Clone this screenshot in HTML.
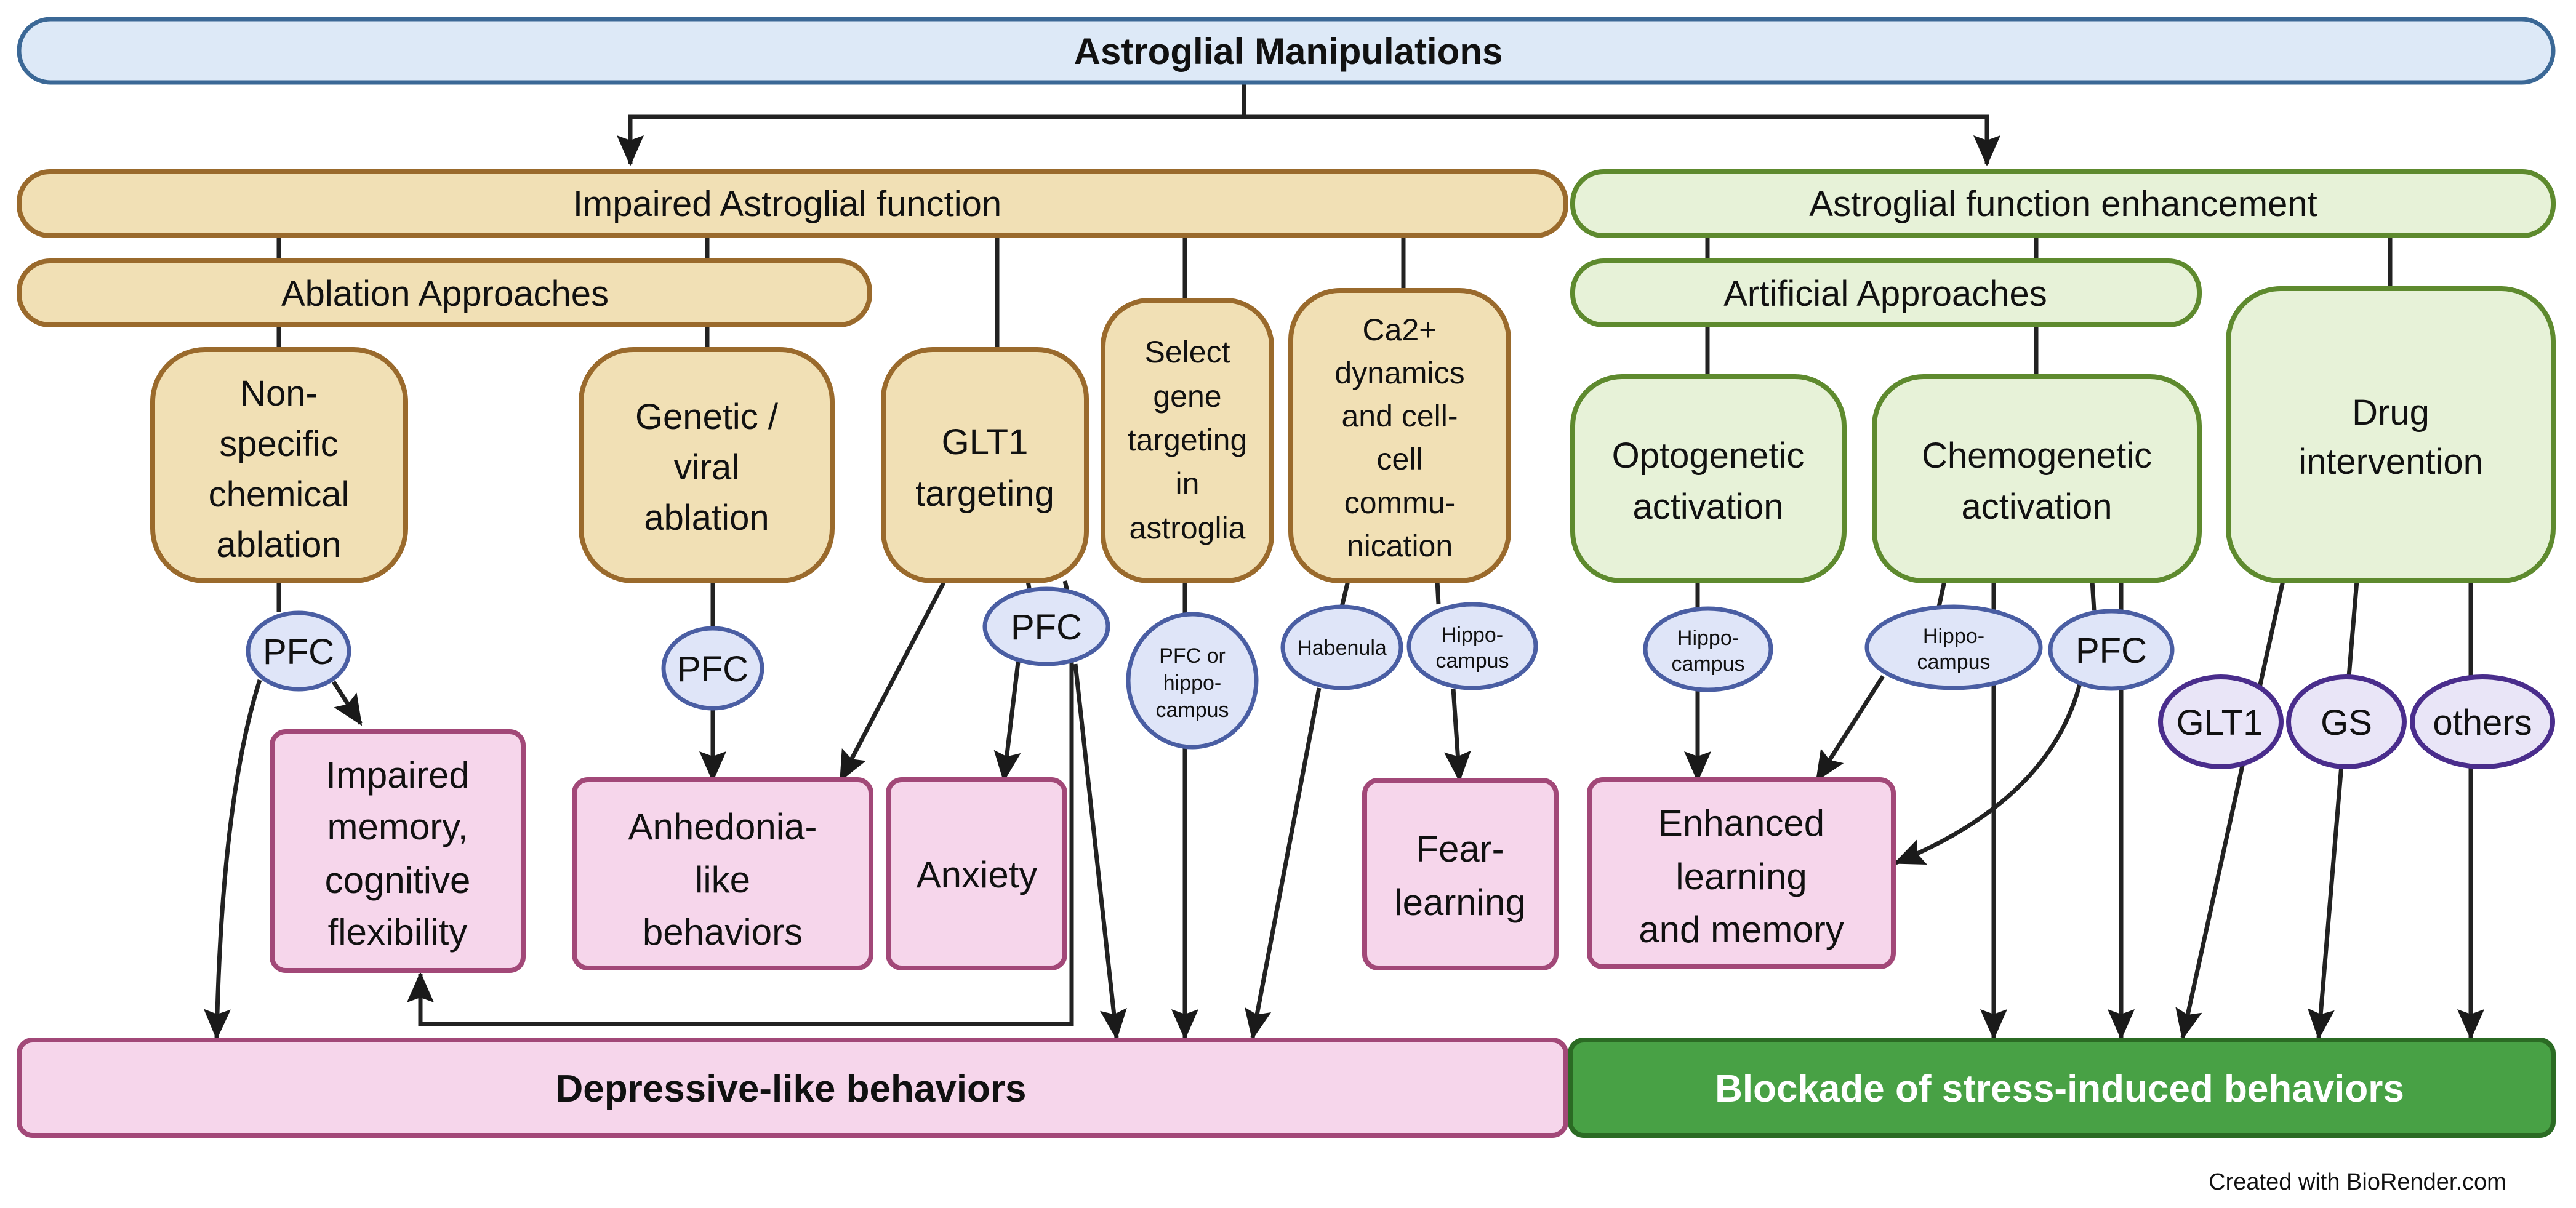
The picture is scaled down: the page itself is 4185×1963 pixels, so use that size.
<!DOCTYPE html>
<html><head><meta charset="utf-8"><style>
html,body{margin:0;padding:0;background:#fff}
svg{display:block}
text{font-family:"Liberation Sans",Arial,sans-serif;fill:#111;text-anchor:middle}
</style></head><body>
<svg width="4185" height="1963" viewBox="0 0 4185 1963" xmlns="http://www.w3.org/2000/svg">
<defs>
<marker id="a" markerUnits="userSpaceOnUse" markerWidth="50" markerHeight="44" refX="46" refY="22" orient="auto" viewBox="0 0 50 44">
<path d="M0,0 L50,22 L0,44 L8,22 Z" fill="#1a1a1a"/>
</marker>
</defs>
<g stroke="#222" stroke-width="7" fill="none">
<polyline points="2021,134 2021,190 1024,190 1024,266" marker-end="url(#a)"/>
<polyline points="2021,190 3228,190 3228,266" marker-end="url(#a)"/>
<line x1="453" y1="383" x2="453" y2="423"/><line x1="1149" y1="383" x2="1149" y2="423"/>
<line x1="453" y1="528" x2="453" y2="568"/><line x1="1149" y1="528" x2="1149" y2="568"/>
<line x1="1620" y1="383" x2="1620" y2="568"/>
<line x1="1925" y1="383" x2="1925" y2="488"/>
<line x1="2280" y1="383" x2="2280" y2="472"/>
<line x1="2774" y1="383" x2="2774" y2="423"/><line x1="3308" y1="383" x2="3308" y2="423"/>
<line x1="2774" y1="528" x2="2774" y2="612"/><line x1="3308" y1="528" x2="3308" y2="612"/>
<line x1="3883" y1="383" x2="3883" y2="469"/>
<line x1="453" y1="944" x2="453" y2="995"/>
<path d="M422,1105 Q360,1300 352,1686" marker-end="url(#a)"/>
<line x1="542" y1="1108" x2="586" y2="1176" marker-end="url(#a)"/>
<line x1="1158" y1="944" x2="1158" y2="1021"/>
<line x1="1158" y1="1152" x2="1158" y2="1267" marker-end="url(#a)"/>
<line x1="1533" y1="947" x2="1366" y2="1267" marker-end="url(#a)"/>
<line x1="1670" y1="944" x2="1672" y2="956"/>
<line x1="1654" y1="1076" x2="1631" y2="1267" marker-end="url(#a)"/>
<polyline points="1730,944 1741,990 1741,1664 683,1664 683,1583" marker-end="url(#a)"/>
<line x1="1747" y1="1079" x2="1814" y2="1686" marker-end="url(#a)"/>
<line x1="1925" y1="944" x2="1925" y2="998"/>
<line x1="1925" y1="1215" x2="1925" y2="1686" marker-end="url(#a)"/>
<line x1="2190" y1="944" x2="2180" y2="986"/>
<line x1="2143" y1="1118" x2="2035" y2="1686" marker-end="url(#a)"/>
<line x1="2335" y1="944" x2="2337" y2="982"/>
<line x1="2361" y1="1119" x2="2371" y2="1267" marker-end="url(#a)"/>
<line x1="2758" y1="944" x2="2758" y2="989"/>
<line x1="2758" y1="1121" x2="2758" y2="1267" marker-end="url(#a)"/>
<line x1="3159" y1="944" x2="3150" y2="986"/>
<line x1="3059" y1="1099" x2="2952" y2="1267" marker-end="url(#a)"/>
<line x1="3399" y1="944" x2="3402" y2="992"/>
<path d="M3379,1111 Q3330,1300 3080,1402" marker-end="url(#a)"/>
<line x1="3239" y1="944" x2="3239" y2="1686" marker-end="url(#a)"/>
<line x1="3446" y1="944" x2="3446" y2="1686" marker-end="url(#a)"/>
<line x1="3709" y1="944" x2="3546" y2="1686" marker-end="url(#a)"/>
<line x1="3829" y1="944" x2="3767" y2="1686" marker-end="url(#a)"/>
<line x1="4014" y1="944" x2="4014" y2="1686" marker-end="url(#a)"/>
</g>

<rect x="31" y="31" width="4117" height="103" rx="51" fill="#dde9f7" stroke="#3b6896" stroke-width="7"/>
<text x="2093" y="104" font-size="60" font-weight="bold">Astroglial Manipulations</text>

<g stroke="#9a6a2c" stroke-width="8" fill="#f1e0b5">
<rect x="31" y="279" width="2513" height="104" rx="50"/>
<rect x="31" y="424" width="1382" height="104" rx="50"/>
<rect x="248" y="568" width="411" height="376" rx="85"/>
<rect x="944" y="568" width="408" height="376" rx="85"/>
<rect x="1435" y="568" width="330" height="376" rx="80"/>
<rect x="1792" y="488" width="274" height="456" rx="75"/>
<rect x="2097" y="472" width="354" height="472" rx="80"/>
</g>
<g stroke="#5e8a2e" stroke-width="8" fill="#e7f2d8">
<rect x="2555" y="279" width="1593" height="104" rx="50"/>
<rect x="2555" y="424" width="1018" height="104" rx="50"/>
<rect x="2555" y="612" width="441" height="332" rx="80"/>
<rect x="3045" y="612" width="528" height="332" rx="80"/>
<rect x="3620" y="469" width="528" height="475" rx="85"/>
</g>
<g font-size="58">
<text x="1279" y="351">Impaired Astroglial function</text>
<text x="723" y="497">Ablation Approaches</text>
<text x="3352" y="351">Astroglial function enhancement</text>
<text x="3063" y="497">Artificial Approaches</text>
<text x="453" y="659">Non-</text><text x="453" y="741">specific</text><text x="453" y="823">chemical</text><text x="453" y="905">ablation</text>
<text x="1148" y="697">Genetic /</text><text x="1148" y="779">viral</text><text x="1148" y="861">ablation</text>
<text x="1600" y="738">GLT1</text><text x="1600" y="822">targeting</text>
<text x="2775" y="760">Optogenetic</text><text x="2775" y="843">activation</text>
<text x="3309" y="760">Chemogenetic</text><text x="3309" y="843">activation</text>
<text x="3884" y="690">Drug</text><text x="3884" y="770">intervention</text>
</g>
<g font-size="50">
<text x="1929" y="589">Select</text><text x="1929" y="661">gene</text><text x="1929" y="732">targeting</text><text x="1929" y="803">in</text><text x="1929" y="875">astroglia</text>
<text x="2274" y="553">Ca2+</text><text x="2274" y="623">dynamics</text><text x="2274" y="693">and cell-</text><text x="2274" y="763">cell</text><text x="2274" y="834">commu-</text><text x="2274" y="904">nication</text>
</g>

<g stroke="#a24878" stroke-width="8" fill="#f6d6eb">
<rect x="442" y="1189" width="408" height="388" rx="22"/>
<rect x="933" y="1267" width="482" height="306" rx="22"/>
<rect x="1443" y="1267" width="287" height="306" rx="22"/>
<rect x="2217" y="1268" width="311" height="305" rx="22"/>
<rect x="2582" y="1267" width="494" height="304" rx="22"/>
<rect x="31" y="1690" width="2513" height="155" rx="22"/>
</g>
<rect x="2551" y="1690" width="1597" height="155" rx="22" fill="#48a145" stroke="#2b6b24" stroke-width="8"/>
<g font-size="60">
<text x="646" y="1280">Impaired</text><text x="646" y="1364">memory,</text><text x="646" y="1451">cognitive</text><text x="646" y="1535">flexibility</text>
<text x="1174" y="1364">Anhedonia-</text><text x="1174" y="1450">like</text><text x="1174" y="1535">behaviors</text>
<text x="1587" y="1442">Anxiety</text>
<text x="2372" y="1400">Fear-</text><text x="2372" y="1487">learning</text>
<text x="2829" y="1358">Enhanced</text><text x="2829" y="1445">learning</text><text x="2829" y="1531">and memory</text>
</g>
<text x="1285" y="1790" font-size="62" font-weight="bold">Depressive-like behaviors</text>
<text x="3346" y="1790" font-size="62" font-weight="bold" style="fill:#fff">Blockade of stress-induced behaviors</text>

<g stroke="#4a5ea3" stroke-width="7" fill="#dfe5f8">
<ellipse cx="485" cy="1058" rx="82" ry="62"/>
<ellipse cx="1158" cy="1086" rx="80" ry="65"/>
<ellipse cx="1700" cy="1018" rx="100" ry="61"/>
<ellipse cx="1937" cy="1106" rx="104" ry="108"/>
<ellipse cx="2180" cy="1052" rx="96" ry="66"/>
<ellipse cx="2392" cy="1050" rx="103" ry="68"/>
<ellipse cx="2775" cy="1055" rx="102" ry="66"/>
<ellipse cx="3174" cy="1052" rx="141" ry="66"/>
<ellipse cx="3430" cy="1056" rx="99" ry="63"/>
</g>
<g stroke="#4a2d8c" stroke-width="8" fill="#e9e5f7">
<ellipse cx="3608" cy="1173" rx="98" ry="73"/>
<ellipse cx="3812" cy="1173" rx="94" ry="73"/>
<ellipse cx="4033" cy="1173" rx="114" ry="73"/>
</g>
<g font-size="58">
<text x="485" y="1079">PFC</text>
<text x="1158" y="1107">PFC</text>
<text x="1700" y="1039">PFC</text>
<text x="3430" y="1077">PFC</text>
<text x="3606" y="1194">GLT1</text>
<text x="3812" y="1194">GS</text>
<text x="4033" y="1194">others</text>
</g>
<g font-size="34">
<text x="1937" y="1077">PFC or</text><text x="1937" y="1121">hippo-</text><text x="1937" y="1165">campus</text>
<text x="2180" y="1064">Habenula</text>
<text x="2392" y="1043">Hippo-</text><text x="2392" y="1085">campus</text>
<text x="2775" y="1048">Hippo-</text><text x="2775" y="1090">campus</text>
<text x="3174" y="1045">Hippo-</text><text x="3174" y="1087">campus</text>
</g>
<text x="3830" y="1933" font-size="38">Created with BioRender.com</text>
</svg>
</body></html>
